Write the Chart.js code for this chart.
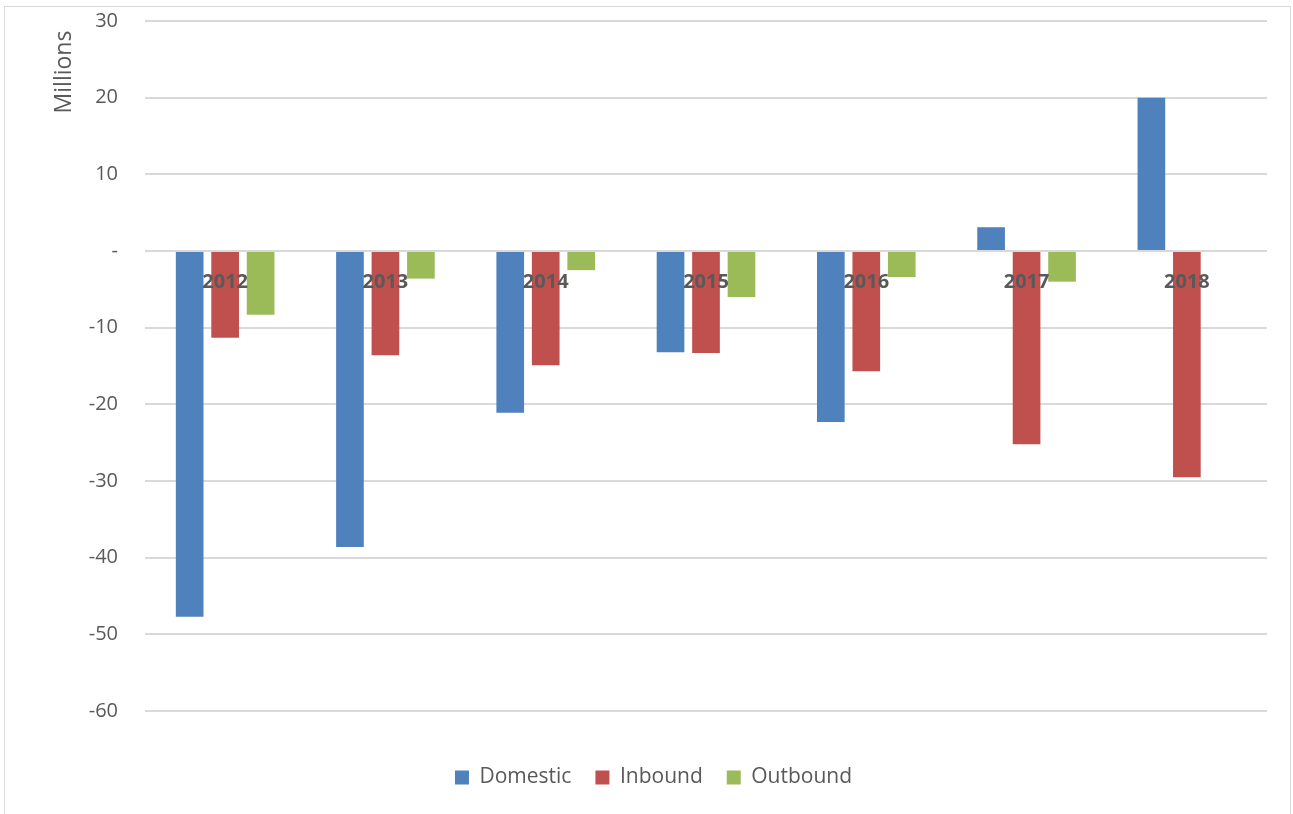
<!DOCTYPE html>
<html lang="en">
<head>
    <meta charset="UTF-8">
    <title>Domestic, Inbound and Outbound</title>
    <script src="https://cdn.jsdelivr.net/npm/chart.js"></script>
    <style>
        html, body { margin: 0; padding: 0; background: #fff; overflow: hidden; }
        #wrap { position: absolute; left: 0; top: 0; width: 1293px; height: 814px; }
        #frame { position: absolute; left: 4px; top: 6px; width: 1285px; height: 820px;
                 border: 1px solid #d9d9d9; pointer-events: none; }
    </style>
</head>
<body>
    <div id="wrap"><canvas id="myChart"></canvas></div>
    <div id="frame"></div>
    <script>
        // Données (millions)
        var years = ['2012', '2013', '2014', '2015', '2016', '2017', '2018'];
        var domestic = [-47.7, -38.6, -21.1, -13.2, -22.3, 3.1, 20.0];
        var inbound = [-11.3, -13.6, -14.9, -13.3, -15.7, -25.2, -29.5];
        var outbound = [-8.3, -3.6, -2.5, -6.0, -3.4, -4.0, 0];
        var yTicks = [30, 20, 10, 0, -10, -20, -30, -40, -50, -60];

        var grey = '#595959';
        var fontFamily = '"Open Sans", Lato, sans-serif';

        // titre vertical "Millions" placé en haut, comme dans l'original
        var yTitle = {
            id: 'yTitle',
            afterLayout: function(chart) {
                // recentre la légende (Chart.js laisse un espace à droite)
                chart.legend.left += 20;
                chart.legend.right += 20;
            },
            afterDraw: function(chart) {
                var ctx = chart.ctx;
                ctx.save();
                ctx.translate(64, chart.chartArea.top + 51);
                ctx.rotate(-Math.PI / 2);
                ctx.fillStyle = grey;
                ctx.font = '23px ' + fontFamily;
                ctx.textAlign = 'center';
                ctx.textBaseline = 'middle';
                ctx.fillText('Millions', 0, 0);
                ctx.restore();
            }
        };

        var ctx = document.getElementById('myChart').getContext('2d');
        var myChart = new Chart(ctx, {
            type: 'bar',
            data: {
                labels: years,
                datasets: [{
                    label: 'Domestic',
                    data: domestic,
                    backgroundColor: '#4f81bd'
                }, {
                    label: 'Inbound',
                    data: inbound,
                    backgroundColor: '#c0504d'
                }, {
                    label: 'Outbound',
                    data: outbound,
                    backgroundColor: '#9bbb59'
                }]
            },
            options: {
                responsive: true,
                maintainAspectRatio: false,
                animation: false,
                categoryPercentage: 0.664,
                barPercentage: 0.78,
                layout: { padding: { top: 21, right: 26, bottom: 16, left: 0 } },
                plugins: {
                    legend: {
                        position: 'bottom',
                        title: { display: true, text: ' ', font: { size: 10 }, padding: { top: 10, bottom: 10 } },
                        labels: {
                            boxWidth: 14,
                            boxHeight: 14,
                            padding: 24,
                            color: grey,
                            font: { size: 21, family: fontFamily }
                        }
                    },
                    tooltip: { enabled: false }
                },
                scales: {
                    x: {
                        position: { y: 0 },
                        grid: { display: false },
                        border: { display: false },
                        ticks: {
                            z: 1,
                            color: grey,
                            padding: 11,
                            font: { size: 20, weight: 'bold', family: fontFamily }
                        }
                    },
                    y: {
                        min: -60,
                        max: 30,
                        afterFit: function(scale) {
                            scale.width = 145;
                            scale.paddingTop = 0;
                            scale.paddingBottom = 0;
                        },
                        afterBuildTicks: function(scale) {
                            scale.ticks = yTicks.map(function(v) { return { value: v }; });
                        },
                        grid: { color: '#d9d9d9', lineWidth: 2, drawTicks: false },
                        border: { display: false },
                        ticks: {
                            color: grey,
                            padding: 27,
                            font: { size: 20, family: fontFamily },
                            callback: function(v) { return v === 0 ? '-' : v; }
                        }
                    }
                }
            },
            plugins: [yTitle]
        });
    </script>
</body>
</html>
